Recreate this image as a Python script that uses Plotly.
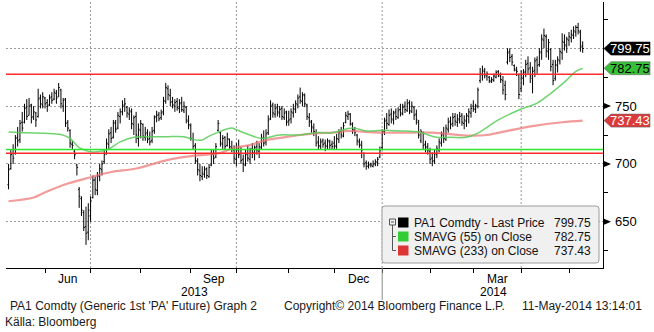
import pandas as pd
import plotly.graph_objects as go

# ---------------- data ----------------
holidays = ["2013-05-27", "2013-07-04", "2013-09-02", "2013-11-28", "2013-12-25",
            "2014-01-01", "2014-01-20", "2014-02-17", "2014-04-18"]
dates = pd.bdate_range("2013-05-09", "2014-05-09", freq="C", holidays=holidays)

opens = [
    682, 696, 709, 709, 723, 721, 736, 736, 749, 742, 751, 741, 744, 741, 757, 751,  # May 13
    757, 753, 751, 758, 756, 761, 758, 764, 750, 756, 736, 729, 717, 711, 699, 678, 670, 658, 646, 641,  # Jun
    655, 671, 686, 677, 689, 695, 702, 709, 717, 727, 723, 736, 731, 741, 745, 751, 749, 743, 745, 734, 741, 722,  # Jul
    729, 734, 723, 727, 722, 720, 729, 741, 743, 740, 745, 754, 765, 759, 754, 750, 754, 748, 753, 746, 749, 737,  # Aug
    733, 721, 716, 702, 694, 689, 691, 696, 689, 699, 709, 706, 729, 727, 717, 723, 716, 721, 714, 712,  # Sep
    704, 713, 709, 704, 699, 709, 704, 713, 709, 715, 711, 714, 723, 719, 727, 739, 751, 743, 749, 744, 748, 740, 745,  # Oct
    737, 739, 744, 747, 751, 758, 754, 759, 751, 740, 736, 731, 727, 719, 715, 720, 718, 715, 719, 717,  # Nov
    718, 715, 721, 728, 724, 736, 741, 743, 734, 729, 725, 719, 716, 709, 701, 698, 700, 698, 700, 701, 706,  # Dec
    714, 728, 738, 734, 743, 738, 745, 740, 747, 743, 750, 746, 753, 745, 749, 743, 736, 720, 727, 717, 715,  # Jan 14
    711, 705, 703, 708, 712, 718, 726, 721, 730, 737, 735, 741, 736, 738, 742, 735, 737, 741, 744,  # Feb
    750, 747, 750, 772, 777, 780, 776, 775, 771, 772, 775, 780, 776, 772, 768, 788, 797, 793, 785, 781, 777,  # Mar
    765, 774, 780, 787, 783, 774, 781, 790, 786, 796, 807, 810, 797, 799, 786, 774, 785, 789, 796, 805, 802,  # Apr
    807, 809, 811, 814, 818, 814, 802,  # May 14
]
highs = [
    700, 712, 717, 725, 732, 738, 745, 752, 756, 757, 752, 750, 745, 765, 760, 762,
    758, 756, 760, 762, 765, 764, 770, 765, 757, 757, 738, 730, 720, 712, 700, 680, 672, 660, 663, 666,
    672, 690, 689, 693, 700, 703, 712, 722, 730, 732, 738, 738, 745, 748, 755, 757, 750, 749, 748, 742, 745, 735,
    738, 735, 732, 730, 728, 732, 742, 746, 745, 747, 758, 770, 768, 765, 758, 756, 757, 756, 758, 754, 750, 742,
    735, 727, 718, 705, 700, 698, 698, 697, 700, 712, 712, 718, 738, 728, 725, 724, 727, 722, 720, 716,
    718, 721, 715, 708, 712, 716, 714, 718, 716, 720, 718, 726, 729, 730, 742, 755, 753, 752, 752, 750, 750, 748, 746,
    746, 748, 752, 755, 760, 766, 762, 761, 752, 744, 738, 735, 730, 724, 722, 722, 721, 722, 721, 720,
    724, 726, 730, 732, 736, 745, 746, 744, 736, 732, 726, 722, 720, 710, 703, 702, 701, 703, 704, 706, 715,
    730, 740, 744, 747, 748, 746, 748, 749, 752, 752, 754, 756, 755, 754, 750, 747, 738, 730, 728, 720, 718,
    714, 710, 712, 716, 722, 728, 732, 734, 740, 741, 744, 744, 743, 745, 744, 742, 744, 748, 752,
    755, 752, 766, 783, 785, 783, 780, 776, 775, 778, 781, 781, 779, 776, 772, 800, 800, 795, 786, 784, 778,
    781, 782, 790, 793, 788, 784, 792, 793, 800, 812, 817, 812, 808, 800, 790, 790, 793, 800, 813, 812, 810,
    814, 816, 819, 820, 822, 816, 806,
]
lows = [
    678, 695, 700, 708, 715, 718, 728, 735, 738, 742, 735, 738, 732, 740, 748, 748,
    748, 745, 750, 752, 755, 752, 758, 748, 745, 732, 728, 714, 712, 704, 690, 662, 655, 642, 630, 634,
    650, 670, 673, 673, 685, 690, 700, 708, 712, 718, 722, 727, 730, 735, 742, 745, 740, 738, 730, 725, 718, 715,
    722, 720, 720, 718, 716, 718, 726, 736, 737, 738, 742, 752, 755, 750, 748, 745, 746, 744, 745, 744, 735, 730,
    720, 712, 700, 690, 685, 686, 688, 687, 688, 698, 700, 705, 728, 715, 713, 712, 715, 712, 710, 700,
    698, 705, 700, 693, 698, 702, 700, 705, 703, 708, 705, 712, 715, 716, 725, 738, 740, 740, 741, 740, 738, 738, 733,
    733, 735, 740, 744, 748, 752, 750, 749, 738, 732, 727, 724, 715, 712, 712, 714, 711, 712, 713, 712,
    712, 713, 718, 722, 723, 735, 738, 733, 726, 724, 716, 714, 705, 697, 695, 696, 697, 697, 698, 698, 705,
    712, 725, 730, 733, 735, 734, 738, 739, 741, 742, 744, 745, 743, 744, 738, 734, 722, 718, 712, 710, 708,
    700, 698, 700, 705, 710, 715, 718, 720, 727, 730, 732, 733, 732, 735, 733, 730, 732, 735, 740,
    745, 744, 748, 770, 772, 774, 772, 770, 770, 771, 774, 775, 770, 760, 755, 786, 788, 785, 780, 776, 756,
    762, 768, 775, 778, 770, 761, 775, 778, 784, 790, 800, 792, 790, 780, 768, 772, 779, 786, 790, 798, 796,
    802, 805, 808, 810, 812, 797, 796,
]
closes = [
    695, 708, 705, 722, 720, 735, 731, 748, 741, 750, 740, 745, 738, 756, 752, 758,
    752, 750, 757, 755, 762, 757, 766, 752, 755, 735, 731, 718, 716, 708, 697, 672, 660, 645, 640, 660,
    668, 686, 678, 690, 696, 700, 708, 718, 726, 722, 735, 730, 742, 745, 750, 752, 744, 746, 735, 740, 725, 730,
    735, 724, 726, 721, 719, 728, 740, 742, 739, 744, 755, 766, 760, 753, 751, 753, 749, 752, 747, 750, 738, 734,
    722, 715, 703, 695, 690, 692, 695, 690, 697, 708, 705, 715, 735, 718, 722, 715, 722, 715, 713, 705,
    712, 708, 703, 700, 708, 705, 712, 710, 714, 712, 715, 722, 718, 726, 738, 750, 744, 748, 745, 747, 741, 744, 736,
    738, 745, 748, 752, 757, 755, 760, 752, 741, 737, 732, 728, 718, 716, 719, 717, 716, 720, 716, 715,
    716, 722, 727, 725, 733, 742, 743, 735, 730, 727, 720, 717, 712, 700, 698, 699, 699, 700, 702, 704, 712,
    727, 737, 735, 742, 739, 744, 741, 746, 744, 749, 747, 752, 746, 750, 742, 738, 725, 728, 716, 714, 712,
    704, 702, 709, 713, 719, 725, 722, 731, 736, 734, 740, 737, 739, 741, 736, 738, 742, 745, 748,
    748, 750, 764, 778, 781, 777, 778, 772, 773, 776, 779, 777, 773, 764, 760, 796, 792, 788, 782, 780, 760,
    775, 779, 786, 782, 776, 780, 789, 785, 797, 808, 811, 798, 805, 784, 772, 786, 790, 797, 806, 803, 808,
    810, 812, 815, 818, 815, 801, 799.75,
]

sma55_dates = ["2013-05-09", "2013-05-16", "2013-05-24", "2013-06-03", "2013-06-12", "2013-06-18",
               "2013-06-20", "2013-06-24", "2013-06-27", "2013-07-01", "2013-07-05", "2013-07-11",
               "2013-07-15", "2013-07-19", "2013-07-29", "2013-08-07", "2013-08-16", "2013-08-28",
               "2013-09-04", "2013-09-10", "2013-09-12", "2013-09-18", "2013-09-27", "2013-10-01",
               "2013-10-09", "2013-10-16", "2013-10-28", "2013-11-08", "2013-11-19", "2013-11-29",
               "2013-12-12", "2013-12-20", "2014-01-02", "2014-01-14", "2014-01-27", "2014-02-06",
               "2014-02-14", "2014-02-26", "2014-03-05", "2014-03-18", "2014-03-31", "2014-04-10",
               "2014-04-21", "2014-04-30", "2014-05-06", "2014-05-09"]
sma55_vals = [727.5, 727, 726.8, 726.5, 725.5, 722,
              718, 714, 711.5, 710.6, 710.5, 712,
              714, 719, 723, 723.5, 723.5, 723.5,
              721, 720.6, 723, 726.6, 731, 729.5,
              725, 722, 725, 725, 727, 727,
              731, 728.5, 729, 728.5, 727.5, 723,
              723, 723, 726.6, 738, 746.6, 752.6,
              761, 772.5, 780, 782.75]

sma233_dates = ["2013-05-09", "2013-05-24", "2013-05-31", "2013-06-17", "2013-07-01", "2013-07-15",
                "2013-07-30", "2013-08-19", "2013-09-04", "2013-09-20", "2013-09-30", "2013-10-09",
                "2013-10-18", "2013-10-30", "2013-11-08", "2013-11-20", "2013-11-29", "2013-12-11",
                "2013-12-23", "2014-01-02", "2014-01-14", "2014-02-04", "2014-02-26", "2014-03-11",
                "2014-03-25", "2014-04-08", "2014-04-28", "2014-05-09"]
sma233_vals = [667.7, 671, 674.5, 683, 688.5, 693,
               696, 703.5, 707, 709.5, 714, 716.3,
               720.6, 723, 725, 726.6, 727, 728.5,
               727.5, 727, 727, 727, 724.5, 725,
               729, 732.7, 736, 737.43]

level_lines = [777.5, 712.5, 709.25]
level_colors = ["#ff2a2a", "#2ee82e", "#ff2a2a"]

month_starts = ["2013-06-03", "2013-07-01", "2013-08-01", "2013-09-03", "2013-10-01", "2013-11-01",
                "2013-12-02", "2014-01-02", "2014-02-03", "2014-03-03", "2014-04-01", "2014-05-01"]
quarter_lines = ["2013-07-01", "2013-10-01", "2014-01-02", "2014-04-01"]
month_labels = ["Jun", "Sep", "Dec", "Mar"]
month_label_x = ["2013-06-17", "2013-09-17", "2013-12-16 12:00", "2014-03-17 12:00"]
year_labels = ["2013", "2014"]
y_tick_labels = [650, 700, 750]

last_price, last_sma55, last_sma233 = closes[-1], sma55_vals[-1], sma233_vals[-1]

# ---------------- geometry helpers ----------------
W, H = 654, 332
ML, MR, MT, MB = 6, 51, 2, 64
PW, PH = W - ML - MR, H - MT - MB
Y0, Y1 = 610, 840
UNIT = PH / (Y1 - Y0)   # pixels per price unit


def px(x):
    return (x - ML) / PW


def py(y):
    return (H - MB - y) / PH


FONT = "Liberation Sans, Arial, sans-serif"

fig = go.Figure()

fig.add_trace(go.Ohlc(
    x=dates, open=opens, high=highs, low=lows, close=closes,
    increasing=dict(line=dict(color="black", width=1)),
    decreasing=dict(line=dict(color="black", width=1)),
    tickwidth=0.5, showlegend=False, hoverinfo="skip",
))
fig.add_trace(go.Scatter(
    x=sma233_dates, y=sma233_vals, mode="lines",
    line=dict(color="rgba(236,112,112,0.7)", width=2.2, shape="spline"),
    showlegend=False, hoverinfo="skip",
))
fig.add_trace(go.Scatter(
    x=sma55_dates, y=sma55_vals, mode="lines",
    line=dict(color="rgba(86,204,86,0.85)", width=1.5, shape="spline"),
    showlegend=False, hoverinfo="skip",
))

shapes = []
# quarter grid lines
for d in quarter_lines:
    shapes.append(dict(type="line", xref="x", yref="paper", x0=d, x1=d, y0=0, y1=1,
                       line=dict(color="#9a9a9a", width=1, dash="2px,2px"), layer="below"))
# year divider below the axis
shapes.append(dict(type="line", xref="x", yref="paper", x0="2014-01-02", x1="2014-01-02",
                   y0=py(300), y1=0, line=dict(color="#8a8a8a", width=1)))
# horizontal level lines
for v, c in zip(level_lines, level_colors):
    shapes.append(dict(type="line", xref="paper", yref="y", x0=0, x1=1, y0=v, y1=v,
                       line=dict(color=c, width=1.5), layer="above"))

# right-axis triangles for labelled ticks
tri = 3 / UNIT
for v in y_tick_labels:
    shapes.append(dict(type="path", xref="paper", yref="y",
                       path=f"M {px(604)} {v + tri} L {px(611)} {v} L {px(604)} {v - tri} Z",
                       fillcolor="black", line=dict(width=0)))

annotations = []
for v in y_tick_labels:
    annotations.append(dict(xref="paper", yref="y", x=px(613), y=v, text=str(v), showarrow=False,
                            xanchor="left", yanchor="middle", font=dict(family=FONT, size=13, color="black")))

# value tags on the right axis
half = 6.5 / UNIT
for v, fill, fc in [(last_price, "#000000", "white"),
                    (last_sma55, "#38c038", "black"),
                    (last_sma233, "#dc3a3a", "white")]:
    shapes.append(dict(type="path", xref="paper", yref="y",
                       path=(f"M {px(604)} {v} L {px(611)} {v + half} L {px(650)} {v + half} "
                             f"L {px(650)} {v - half} L {px(611)} {v - half} Z"),
                       fillcolor=fill, line=dict(color="#6a6a6a" if fill != "#000000" else "#000", width=0.6)))
    annotations.append(dict(xref="paper", yref="y", x=px(630), y=v, text=f"{v:.2f}", showarrow=False,
                            xanchor="center", yanchor="middle", font=dict(family=FONT, size=13, color=fc)))

# legend panel
lx0, lx1, ly0, ly1, r = 382, 599, 206, 263, 3
rx, ry = r / PW, r / PH
path = (f"M {px(lx0) + rx} {py(ly0)} L {px(lx1) - rx} {py(ly0)} Q {px(lx1)} {py(ly0)} {px(lx1)} {py(ly0) - ry} "
        f"L {px(lx1)} {py(ly1) + ry} Q {px(lx1)} {py(ly1)} {px(lx1) - rx} {py(ly1)} "
        f"L {px(lx0) + rx} {py(ly1)} Q {px(lx0)} {py(ly1)} {px(lx0)} {py(ly1) + ry} "
        f"L {px(lx0)} {py(ly0) - ry} Q {px(lx0)} {py(ly0)} {px(lx0) + rx} {py(ly0)} Z")
shapes.append(dict(type="path", xref="paper", yref="paper", path=path,
                   fillcolor="#f0f0f0", line=dict(color="#9c9c9c", width=1), layer="above"))

rows = [222.5, 236.5, 250.5]
legend_names = ["PA1 Comdty - Last Price", "SMAVG (55) on Close", "SMAVG (233) on Close"]
legend_colors = ["#000000", "#33cc33", "#dd3535"]
legend_vals = [last_price, last_sma55, last_sma233]
# tree icon
shapes.append(dict(type="rect", xref="paper", yref="paper", x0=px(389.5), x1=px(395.5),
                   y0=py(225), y1=py(219), line=dict(color="#555", width=1), fillcolor="#f0f0f0", layer="above"))
shapes.append(dict(type="line", xref="paper", yref="paper", x0=px(391), x1=px(394), y0=py(222), y1=py(222),
                   line=dict(color="#555", width=1), layer="above"))
shapes.append(dict(type="line", xref="paper", yref="paper", x0=px(392.5), x1=px(392.5), y0=py(225), y1=py(rows[2]),
                   line=dict(color="#555", width=1), layer="above"))
for yy in rows[1:]:
    shapes.append(dict(type="line", xref="paper", yref="paper", x0=px(392.5), x1=px(396), y0=py(yy), y1=py(yy),
                       line=dict(color="#555", width=1), layer="above"))
for yy, name, col, val in zip(rows, legend_names, legend_colors, legend_vals):
    shapes.append(dict(type="rect", xref="paper", yref="paper", x0=px(398), x1=px(408.5),
                       y0=py(yy + 5), y1=py(yy - 5), fillcolor=col, line=dict(width=0), layer="above"))
    annotations.append(dict(xref="paper", yref="paper", x=px(412), y=py(yy), text=name, showarrow=False,
                            xanchor="left", yanchor="middle", font=dict(family=FONT, size=12, color="#111")))
    annotations.append(dict(xref="paper", yref="paper", x=px(593), y=py(yy), text=f"{val:.2f}", showarrow=False,
                            xanchor="right", yanchor="middle", font=dict(family=FONT, size=12, color="#111")))

# month and year labels
for lab, xd in zip(month_labels, month_label_x):
    annotations.append(dict(xref="x", yref="paper", x=xd, y=py(279), text=lab, showarrow=False,
                            xanchor="center", yanchor="middle", font=dict(family=FONT, size=12, color="black")))
for lab, xp in zip(year_labels, [194, 493]):
    annotations.append(dict(xref="paper", yref="paper", x=px(xp), y=py(292), text=lab, showarrow=False,
                            xanchor="center", yanchor="middle", font=dict(family=FONT, size=12, color="black")))

# footer
footer = [(8, "PA1 Comdty (Generic 1st 'PA' Future) Graph 2"),
          (282, "Copyright\u00a9 2014 Bloomberg Finance L.P."),
          (520, "11-May-2014 13:14:01")]
for xp, s in footer:
    annotations.append(dict(xref="paper", yref="paper", x=px(xp), y=py(306), text=s, showarrow=False,
                            xanchor="left", yanchor="middle", font=dict(family=FONT, size=12, color="#1a1a1a")))
annotations.append(dict(xref="paper", yref="paper", x=px(3), y=py(322), text="Källa: Bloomberg", showarrow=False,
                        xanchor="left", yanchor="middle", font=dict(family=FONT, size=12, color="#1a1a1a")))

fig.update_layout(
    width=W, height=H,
    margin=dict(l=ML, r=MR, t=MT, b=MB, pad=0),
    paper_bgcolor="white", plot_bgcolor="white",
    showlegend=False,
    shapes=shapes, annotations=annotations,
    xaxis=dict(
        type="date",
        range=["2013-05-07 21:07", "2014-05-21 22:05"],
        rangebreaks=[dict(bounds=["sat", "mon"]), dict(values=holidays)],
        rangeslider=dict(visible=False),
        tickmode="array", tickvals=month_starts,
        ticks="outside", ticklen=4, tickwidth=1, tickcolor="black",
        showticklabels=False, showgrid=False, zeroline=False,
        showline=True, linecolor="black", linewidth=1,
    ),
    yaxis=dict(
        side="right", range=[Y0, Y1],
        tickmode="array", tickvals=[650, 700, 750, 800],
        ticks="", showticklabels=False,
        showgrid=True, gridcolor="#9a9a9a", griddash="2px,2px", gridwidth=1,
        minor=dict(tickmode="array", tickvals=[625, 675, 725, 775, 825], ticks="outside",
                   ticklen=4, tickwidth=1, tickcolor="black", showgrid=False),
        zeroline=False, showline=True, linecolor="black", linewidth=1,
    ),
)

fig.write_html("out.html")
